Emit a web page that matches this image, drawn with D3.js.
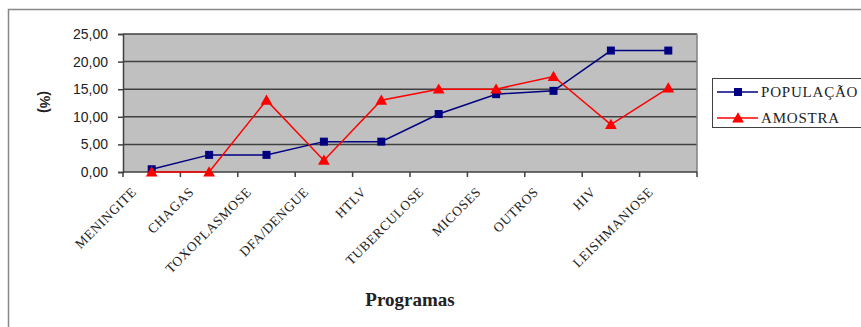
<!DOCTYPE html>
<html lang="pt">
<head>
<meta charset="utf-8">
<title>Programas</title>
<script src="https://cdn.jsdelivr.net/npm/d3@7"></script>
<style>
  body { margin: 0; background: #fff; }
  svg { display: block; }
</style>
</head>
<body>
<svg width="861" height="327"></svg>
<script>
// data
var programas = ['MENINGITE', 'CHAGAS', 'TOXOPLASMOSE', 'DFA/DENGUE', 'HTLV',
                 'TUBERCULOSE', 'MICOSES', 'OUTROS', 'HIV', 'LEISHMANIOSE'];
var populacao = [0.5, 3.1, 3.1, 5.5, 5.5, 10.5, 14.1, 14.7, 22.0, 22.0];
var amostra   = [0.0, 0.0, 13.0, 2.1, 13.0, 15.0, 15.0, 17.3, 8.6, 15.2];
var yTicks = [0, 5, 10, 15, 20, 25];
var serieNames = ['POPULAÇÃO', 'AMOSTRA'];

var svg = d3.select('svg');
var plotLeft = 123, plotRight = 697, plotTop = 34, plotBottom = 172;

// outer frame
svg.append('rect')
    .attr('x', 8.5).attr('y', 9.5)
    .attr('width', 900).attr('height', 400)
    .style('fill', 'none').style('stroke', '#888').style('stroke-width', 1.5);

var x = d3.scaleBand().domain(programas).range([plotLeft, plotRight]);
var y = d3.scaleLinear().domain([0, 25]).range([plotBottom, plotTop]);
var fmt = function(d){ return d3.format('.2f')(d).replace('.', ','); };

// plot background
svg.append('rect')
    .attr('x', plotLeft).attr('y', plotTop)
    .attr('width', plotRight - plotLeft).attr('height', plotBottom - plotTop)
    .style('fill', '#c0c0c0');

// gridlines
svg.selectAll('line.grid')
    .data(yTicks.slice(1))
    .enter()
    .append('line')
    .attr('class', 'grid')
    .attr('x1', plotLeft).attr('x2', plotRight)
    .attr('y1', d => y(d)).attr('y2', d => y(d))
    .style('stroke', '#404040').style('stroke-width', 1.5);

// right border of plot
svg.append('line')
    .attr('x1', plotRight).attr('x2', plotRight).attr('y1', plotTop).attr('y2', plotBottom)
    .style('stroke', '#808080').style('stroke-width', 1.5);

// y axis
var yAxis = svg.append('g')
    .attr('transform', 'translate(' + plotLeft + ',0)')
    .call(d3.axisLeft(y).tickValues(yTicks).tickFormat(fmt).tickSize(5).tickPadding(10));
yAxis.select('.domain').style('stroke', '#404040').style('stroke-width', 1.5);
yAxis.selectAll('line').style('stroke', '#404040').style('stroke-width', 1.5);
yAxis.selectAll('text')
    .style('font-family', 'Liberation Sans, Arial, sans-serif')
    .style('font-size', '14px').style('fill', '#222');

// x axis with ticks at category boundaries
var xAxis = svg.append('g')
    .attr('transform', 'translate(0,' + plotBottom + ')');
xAxis.append('line')
    .attr('x1', plotLeft).attr('x2', plotRight)
    .style('stroke', '#404040').style('stroke-width', 1.5);
xAxis.selectAll('line.tick')
    .data(programas.concat(['end']))
    .enter()
    .append('line')
    .attr('class', 'tick')
    .attr('x1', (d, i) => plotLeft + i * x.bandwidth())
    .attr('x2', (d, i) => plotLeft + i * x.bandwidth())
    .attr('y1', 0).attr('y2', 5)
    .style('stroke', '#404040').style('stroke-width', 1.5);
xAxis.selectAll('text')
    .data(programas)
    .enter()
    .append('text')
    .attr('transform', d => 'translate(' + (x(d) + x.bandwidth() / 2 - 21) + ',14) rotate(-45)')
    .attr('text-anchor', 'end')
    .attr('dy', '0.7em')
    .style('font-family', 'Liberation Serif, Times New Roman, serif')
    .style('font-size', '13.5px').style('fill', '#222')
    .style('letter-spacing', '0.6px')
    .text(d => d);

// axis titles
svg.append('text')
    .attr('transform', 'translate(40,102) rotate(90)')
    .attr('text-anchor', 'middle')
    .style('font-family', 'Liberation Sans, Arial, sans-serif')
    .style('font-size', '14px').style('font-weight', 'bold').style('fill', '#222')
    .text('(%)');
svg.append('text')
    .attr('x', 410).attr('y', 306)
    .attr('text-anchor', 'middle')
    .style('font-family', 'Liberation Serif, Times New Roman, serif')
    .style('font-size', '19px').style('font-weight', 'bold').style('fill', '#222')
    .text('Programas');

var cx = d => x(d) + x.bandwidth() / 2;
var tri = d3.symbol().type(d3.symbolTriangle).size(60);

// series
var line = d3.line().x((d, i) => cx(programas[i])).y(d => y(d));

svg.append('path').datum(populacao)
    .attr('d', line)
    .style('fill', 'none').style('stroke', '#000080').style('stroke-width', 1.5);
svg.selectAll('rect.pop')
    .data(populacao)
    .enter()
    .append('rect')
    .attr('class', 'pop')
    .attr('x', (d, i) => cx(programas[i]) - 4)
    .attr('y', d => y(d) - 4)
    .attr('width', 8).attr('height', 8)
    .style('fill', '#000080');

svg.append('path').datum(amostra)
    .attr('d', line)
    .style('fill', 'none').style('stroke', '#ff0000').style('stroke-width', 1.5);
svg.selectAll('path.amo')
    .data(amostra)
    .enter()
    .append('path')
    .attr('class', 'amo')
    .attr('d', tri)
    .attr('transform', (d, i) => 'translate(' + cx(programas[i]) + ',' + (y(d) + 1) + ')')
    .style('fill', '#ff0000');

// legend
var legend = svg.append('g');
legend.append('rect')
    .attr('x', 712.5).attr('y', 78.5)
    .attr('width', 200).attr('height', 49)
    .style('fill', '#fff').style('stroke', '#404040').style('stroke-width', 1);
var items = legend.selectAll('g.item')
    .data(serieNames)
    .enter()
    .append('g')
    .attr('class', 'item')
    .attr('transform', (d, i) => 'translate(717,' + (92 + i * 26) + ')');
items.append('line')
    .attr('x1', 0).attr('x2', 41)
    .style('stroke', (d, i) => i ? '#ff0000' : '#000080').style('stroke-width', 1.5);
items.filter((d, i) => i === 0).append('rect')
    .attr('x', 17).attr('y', -4).attr('width', 8).attr('height', 8)
    .style('fill', '#000080');
items.filter((d, i) => i === 1).append('path')
    .attr('d', tri).attr('transform', 'translate(21,1)')
    .style('fill', '#ff0000');
items.append('text')
    .attr('x', 44).attr('dy', '0.35em')
    .style('font-family', 'Liberation Serif, Times New Roman, serif')
    .style('font-size', '15px').style('fill', '#222')
    .style('letter-spacing', '0.8px')
    .text(d => d);
</script>
</body>
</html>
